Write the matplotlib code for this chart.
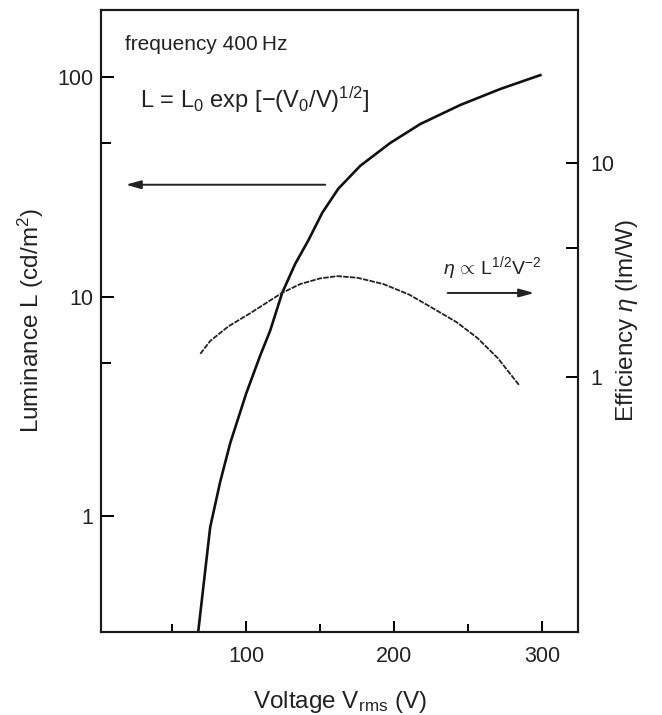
import numpy as np
import matplotlib.pyplot as plt
from matplotlib.ticker import FixedLocator, NullFormatter

plt.rcParams['font.family'] = ['Liberation Sans', 'DejaVu Sans']
plt.rcParams['mathtext.fontset'] = 'custom'
plt.rcParams['mathtext.rm'] = 'Liberation Sans'
plt.rcParams['mathtext.it'] = 'Liberation Sans:italic'
plt.rcParams['mathtext.sf'] = 'Liberation Sans'

# luminance curve (V in volts, L in cd/m^2)
lum_v = [67.6, 71.6, 75.7, 82.4, 89.2, 100, 109.5, 116.2, 124.3, 133.1,
         141.9, 151.4, 162.2, 177, 197.3, 217.6, 244.6, 271.6, 298.6]
lum_l = [0.297, 0.512, 0.891, 1.43, 2.15, 3.62, 5.4, 7.0, 10.4, 14.1,
         18.0, 24.1, 31.0, 39.4, 50.1, 61.1, 74.6, 88.2, 102]

# efficiency curve (V in volts, eta in lm/W)
eff_v = [69, 75.7, 88, 102.7, 124, 136.5, 150, 161.5, 175, 192.6, 210, 226,
         242, 256, 270, 284.5]
eff_eta = [1.28, 1.47, 1.72, 1.98, 2.46, 2.71, 2.88, 2.95, 2.9, 2.71, 2.42,
           2.09, 1.8, 1.52, 1.22, 0.91]

txt = '#222222'

fig = plt.figure(figsize=(6.62, 7.15), dpi=100)
ax = fig.add_axes([0.1526, 0.1161, 0.7205, 0.870])
ax2 = ax.twinx()

ax.plot(lum_v, lum_l, color='#111111', lw=1.9)
ax2.plot(eff_v, eff_eta, color='#222222', lw=1.3, ls=(0, (3, 0.7)))

ax.set_xlim(2, 324)
ax.set_yscale('log')
ax.set_ylim(0.297, 202)
ax2.set_yscale('log')
ax2.set_ylim(0.0645, 51.5)

ax.xaxis.set_major_locator(FixedLocator([100, 200, 300]))
ax.xaxis.set_minor_locator(FixedLocator([50, 150, 250]))
ax.yaxis.set_major_locator(FixedLocator([1, 10, 100]))
ax.yaxis.set_minor_locator(FixedLocator([5, 50]))
ax.yaxis.set_major_formatter(plt.FuncFormatter(lambda v, p: '%g' % v))
ax.yaxis.set_minor_formatter(NullFormatter())
ax2.yaxis.set_major_locator(FixedLocator([1, 10]))
ax2.yaxis.set_minor_locator(FixedLocator([4]))
ax2.yaxis.set_major_formatter(plt.FuncFormatter(lambda v, p: '%g' % v))
ax2.yaxis.set_minor_formatter(NullFormatter())

for a in (ax, ax2):
    for s in a.spines.values():
        s.set_linewidth(1.5)
        s.set_color('#1a1a1a')
ax.tick_params(axis='x', which='major', direction='in', length=8, width=1.4,
               labelsize=15.5, labelcolor=txt, pad=10)
ax.tick_params(axis='x', which='minor', direction='in', length=5.5, width=1.4)
ax.tick_params(axis='y', which='major', direction='in', length=9, width=1.4,
               labelsize=15.5, labelcolor=txt, pad=5.5)
ax.tick_params(axis='y', which='minor', direction='in', length=7, width=1.4)
ax2.tick_params(axis='y', which='major', direction='in', length=9, width=1.4,
                labelsize=15.5, labelcolor=txt, pad=9)
ax2.tick_params(axis='y', which='minor', direction='in', length=9, width=1.4)

ax.set_xlabel(r'Voltage V$_{\rm rms}$ (V)', fontsize=17.5, color=txt)
ax.set_ylabel(r'Luminance L (cd/m$^2$)', fontsize=17.5, color=txt)
ax2.set_ylabel(r'Efficiency $\eta$ (lm/W)', fontsize=17.5, color=txt,
               rotation=90)
ax.xaxis.set_label_coords(0.5, -0.092)
ax.yaxis.set_label_coords(-0.115, 0.5)
ax2.yaxis.set_label_coords(1.075, 0.5)

ax.text(0.05, 0.944, 'frequency 400\u2009Hz', transform=ax.transAxes,
        fontsize=15, color=txt, va='center')
ax.text(0.082, 0.855, r'L = L$_0$ exp [$-$(V$_0$/V)$^{1/2}$]',
        transform=ax.transAxes, fontsize=17, color=txt, va='center')
ax.text(0.716, 0.585, r'$\eta$$\,\propto\,$L$^{1/2}$V$^{-2}$',
        transform=ax.transAxes, fontsize=14, color=txt, va='center')

ax.annotate('', xy=(0.046, 0.719), xytext=(0.476, 0.719),
            xycoords='axes fraction',
            arrowprops=dict(arrowstyle='-|>,head_length=0.9,head_width=0.25',
                            color='#222222', lw=1.4))
ax.annotate('', xy=(0.914, 0.545), xytext=(0.721, 0.545),
            xycoords='axes fraction',
            arrowprops=dict(arrowstyle='-|>,head_length=0.9,head_width=0.25',
                            color='#222222', lw=1.4))

fig.savefig('out.png', dpi=100)
